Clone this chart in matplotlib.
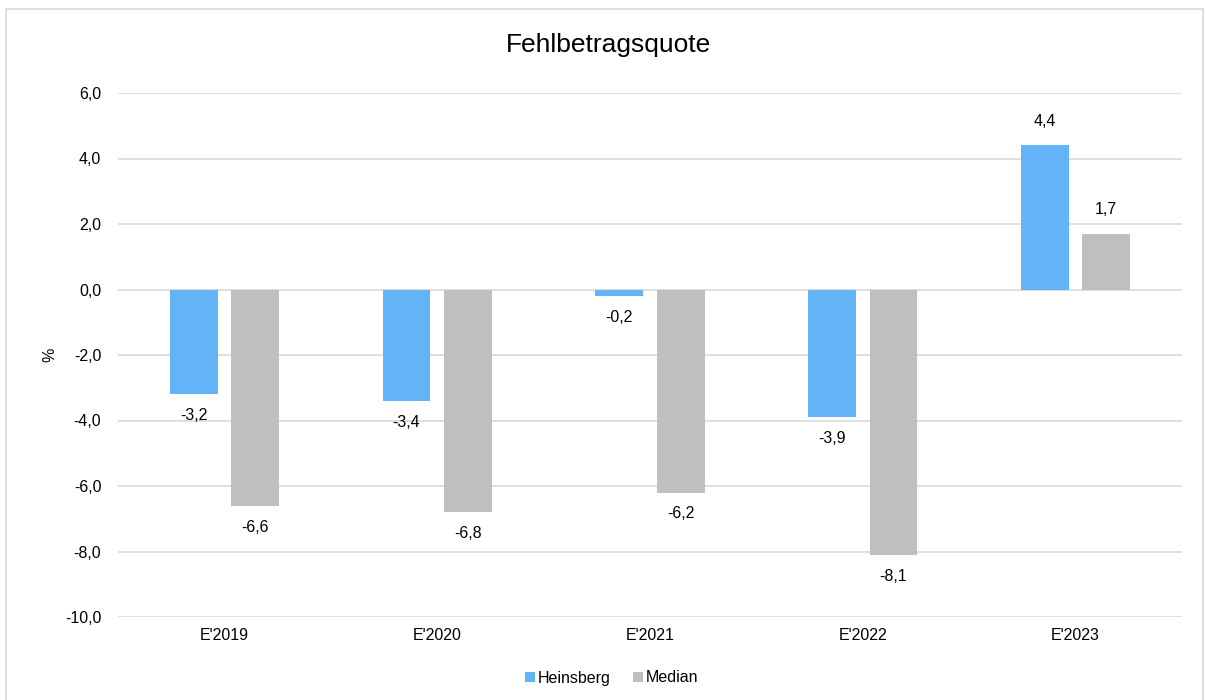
import matplotlib
matplotlib.use("Agg")
import matplotlib.pyplot as plt
from matplotlib.patches import Rectangle
import numpy as np

categories = ["E'2019", "E'2020", "E'2021", "E'2022", "E'2023"]
heinsberg = [-3.2, -3.4, -0.2, -3.9, 4.4]
median = [-6.6, -6.8, -6.2, -8.1, 1.7]
series_names = ["Heinsberg", "Median"]
y_ticks = [-10, -8, -6, -4, -2, 0, 2, 4, 6]

blue = "#63B4F6"
grey = "#BFBFBF"
grid_col = "#D9D9D9"

plt.rcParams["font.family"] = ["Liberation Sans", "DejaVu Sans"]

W, H = 1205, 700
fig = plt.figure(figsize=(W / 100, H / 100), dpi=100)

# outer chart frame
fig.patches.append(Rectangle((6 / W, -0.01), (1203 - 6) / W, 1 - 9 / H + 0.01,
                             transform=fig.transFigure, fill=False,
                             edgecolor="#D9D9D9", linewidth=1.2))

ax = fig.add_axes([118 / W, 1 - 617 / H, (1182 - 118) / W, (617 - 93) / H])

x = np.arange(len(categories))
bw = 0.225
off = 0.144
b1 = ax.bar(x - off, heinsberg, bw, color=blue, label=series_names[0], zorder=3)
b2 = ax.bar(x + off, median, bw, color=grey, label=series_names[1], zorder=3)

ax.set_xlim(-0.5, len(categories) - 0.5)
ax.set_ylim(-10, 6)
ax.set_yticks(y_ticks)
ax.set_yticklabels([f"{v:.1f}".replace(".", ",") for v in y_ticks], fontsize=11.5)
ax.set_xticks(x)
ax.set_xticklabels(categories, fontsize=11.5)
ax.tick_params(axis="both", length=0)
ax.tick_params(axis="y", pad=12)
ax.tick_params(axis="x", pad=8)

ax.grid(axis="y", color=grid_col, linewidth=1.2, zorder=0)
for s in ax.spines.values():
    s.set_visible(False)

for bars, vals in ((b1, heinsberg), (b2, median)):
    for rect, v in zip(bars, vals):
        cx = rect.get_x() + rect.get_width() / 2
        txt = f"{v:.1f}".replace(".", ",")
        if v >= 0:
            ax.annotate(txt, (cx, v), xytext=(0, 12), textcoords="offset points",
                        ha="center", va="bottom", fontsize=11.5)
        else:
            ax.annotate(txt, (cx, v), xytext=(0, -10), textcoords="offset points",
                        ha="center", va="top", fontsize=11.5)

ax.set_ylabel("%", fontsize=11.5)
ax.yaxis.set_label_coords((57 - 118) / (1182 - 118), 0.5)

fig.text(609 / W, 1 - 45 / H, "Fehlbetragsquote", ha="center", va="center",
         fontsize=19)

leg = fig.legend(loc="center", bbox_to_anchor=(612 / W, 1 - 678 / H), ncol=2,
                 frameon=False, fontsize=11.5, handlelength=0.6, handleheight=0.6,
                 handletextpad=0.2, columnspacing=1.4)

fig.savefig("out.png", dpi=100)
